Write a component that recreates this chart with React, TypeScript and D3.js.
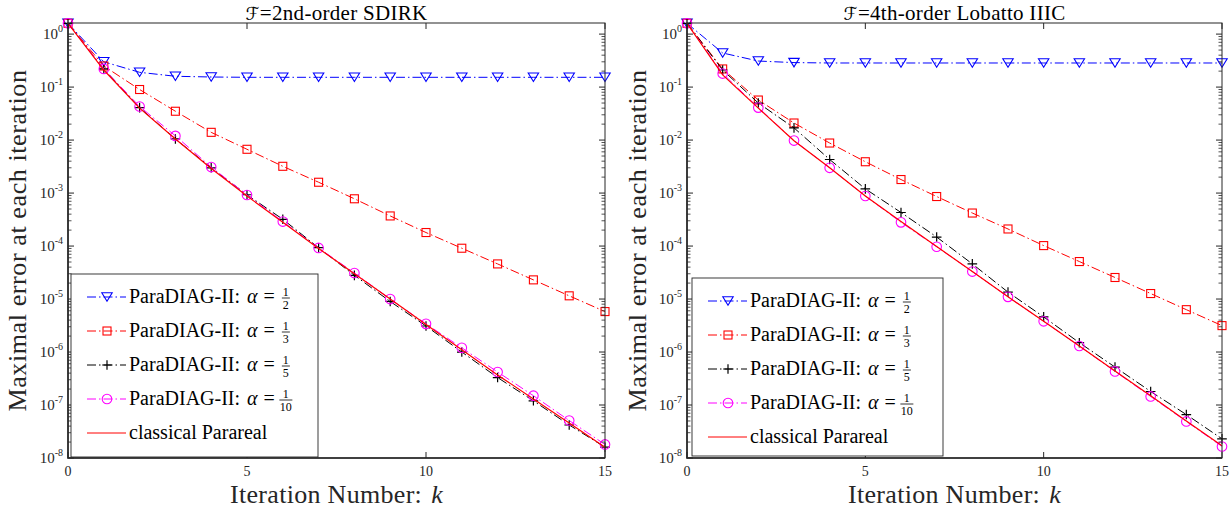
import React, { useEffect, useRef } from 'react';
import * as d3 from 'd3';

const iterations = [0, 1, 2, 3, 4, 5, 6, 7, 8, 9, 10, 11, 12, 13, 14, 15];
const xTicks = [0, 5, 10, 15];
const yTickExponents = [0, -1, -2, -3, -4, -5, -6, -7, -8];
const yDomain = [1e-8, 1.62];

// Left panel: F = 2nd-order SDIRK
const sdirkAlphaHalf = [1.6, 0.3, 0.19, 0.16, 0.155, 0.153, 0.153, 0.153, 0.153, 0.153, 0.153, 0.153, 0.153, 0.153, 0.153, 0.153];
const sdirkAlphaThird = [1.6, 0.25, 0.09, 0.035, 0.014, 0.0067, 0.0032, 0.0016, 0.00078, 0.00037, 0.00018, 9.1e-5, 4.6e-5, 2.3e-5, 1.15e-5, 5.8e-6];
const sdirkAlphaFifth = [1.6, 0.22, 0.041, 0.0105, 0.003, 0.00093, 0.00032, 9.3e-5, 2.8e-5, 9.0e-6, 3.1e-6, 1.0e-6, 3.3e-7, 1.2e-7, 4.2e-8, 1.6e-8];
const sdirkAlphaTenth = [1.6, 0.22, 0.043, 0.012, 0.0031, 0.00092, 0.00029, 9.2e-5, 3.1e-5, 1.0e-5, 3.4e-6, 1.2e-6, 4.2e-7, 1.5e-7, 5.1e-8, 1.8e-8];
const sdirkParareal = [1.6, 0.21, 0.04, 0.0105, 0.0029, 0.00088, 0.00028, 9.0e-5, 3.0e-5, 1.0e-5, 3.3e-6, 1.1e-6, 3.7e-7, 1.3e-7, 4.6e-8, 1.6e-8];

// Right panel: F = 4th-order Lobatto IIIC
const lobattoAlphaHalf = [1.6, 0.44, 0.31, 0.29, 0.285, 0.285, 0.285, 0.285, 0.285, 0.285, 0.285, 0.285, 0.285, 0.285, 0.285, 0.285];
const lobattoAlphaThird = [1.6, 0.22, 0.057, 0.021, 0.0088, 0.0039, 0.0018, 0.00086, 0.00042, 0.00021, 0.000102, 5.1e-5, 2.55e-5, 1.27e-5, 6.3e-6, 3.15e-6];
const lobattoAlphaFifth = [1.6, 0.21, 0.05, 0.017, 0.0043, 0.0012, 0.00043, 0.000148, 4.6e-5, 1.35e-5, 4.6e-6, 1.5e-6, 5.2e-7, 1.8e-7, 6.6e-8, 2.3e-8];
const lobattoAlphaTenth = [1.6, 0.18, 0.041, 0.0098, 0.003, 0.00088, 0.00028, 9.7e-5, 3.3e-5, 1.1e-5, 3.8e-6, 1.3e-6, 4.3e-7, 1.45e-7, 4.9e-8, 1.65e-8];
const lobattoParareal = [1.6, 0.17, 0.04, 0.0097, 0.003, 0.00088, 0.00029, 9.8e-5, 3.3e-5, 1.1e-5, 3.8e-6, 1.3e-6, 4.4e-7, 1.5e-7, 5.0e-8, 1.7e-8];

const legendLabels = ['ParaDIAG-II:', 'ParaDIAG-II:', 'ParaDIAG-II:', 'ParaDIAG-II:', 'classical Parareal'];
const legendDenominators = ['2', '3', '5', '10', ''];
const seriesColors = ['#0000ff', '#ff0000', '#000000', '#ff00ff', '#ff0000'];
const seriesMarkers = ['triangle', 'square', 'plus', 'circle', 'none'];
const seriesDashed = [true, true, true, true, false];

const panelTitles = ['2nd-order SDIRK', '4th-order Lobatto IIIC'];
const panelSeries = [
  [sdirkAlphaHalf, sdirkAlphaThird, sdirkAlphaFifth, sdirkAlphaTenth, sdirkParareal],
  [lobattoAlphaHalf, lobattoAlphaThird, lobattoAlphaFifth, lobattoAlphaTenth, lobattoParareal],
];

const FONT = "'Liberation Serif', 'Times New Roman', serif";
const CAL = "'DejaVu Sans', sans-serif";
const AXIS = '#262626';
const DASH = '9,3,1.5,3';

function txt(sel: any) {
  return sel.style('font-family', FONT);
}

function drawMarker(g: any, type: string, x: number, y: number, color: string) {
  if (type === 'triangle') {
    const w = 5.2, h = 8.5;
    g.append('path').attr('d', `M${x - w},${y - h / 2}L${x + w},${y - h / 2}L${x},${y + h / 2}Z`)
      .attr('fill', 'none').attr('stroke', color).attr('stroke-width', 1.1);
  } else if (type === 'square') {
    const s = 4;
    g.append('rect').attr('x', x - s).attr('y', y - s).attr('width', 2 * s).attr('height', 2 * s)
      .attr('fill', 'none').attr('stroke', color).attr('stroke-width', 1.1);
  } else if (type === 'circle') {
    g.append('circle').attr('cx', x).attr('cy', y).attr('r', 4.8)
      .attr('fill', 'none').attr('stroke', color).attr('stroke-width', 1.1);
  } else if (type === 'plus') {
    const s = 4.8;
    g.append('path').attr('d', `M${x - s},${y}L${x + s},${y}M${x},${y - s}L${x},${y + s}`)
      .attr('fill', 'none').attr('stroke', color).attr('stroke-width', 1.2);
  }
}

function drawPanel(svg: any, idx: number, left: number, right: number, top: number, bottom: number, legendBox: any, ylabelX: number) {
  const x = d3.scaleLinear().domain([0, 15]).range([left, right]);
  const y = d3.scaleLog().domain(yDomain).range([bottom, top]);
  const g = svg.append('g');

  const clip = `clip${idx}`;
  svg.append('defs').append('clipPath').attr('id', clip)
    .append('rect').attr('x', left - 8).attr('y', top - 8).attr('width', right - left + 16).attr('height', bottom - top + 16);
  const data = panelSeries[idx];
  const line = d3.line<number>().x((_, i) => x(iterations[i])).y((d) => y(d));
  data.forEach((vals, s) => {
    const sg = g.append('g').attr('clip-path', `url(#${clip})`);
    sg.append('path').attr('d', line(vals)).attr('fill', 'none')
      .attr('stroke', seriesColors[s]).attr('stroke-width', s === 4 ? 1.2 : 1.0)
      .attr('stroke-dasharray', seriesDashed[s] ? DASH : null);
    vals.forEach((v, i) => drawMarker(sg, seriesMarkers[s], x(iterations[i]), y(v), seriesColors[s]));
  });

  const ax = svg.append('g');
  const tickLen = 6, minorLen = 3.5;
  xTicks.forEach((t) => {
    ax.append('line').attr('x1', x(t)).attr('x2', x(t)).attr('y1', bottom).attr('y2', bottom - tickLen).attr('stroke', AXIS);
    ax.append('line').attr('x1', x(t)).attr('x2', x(t)).attr('y1', top).attr('y2', top + tickLen).attr('stroke', AXIS);
    txt(ax.append('text')).attr('x', x(t)).attr('y', bottom + 18).attr('text-anchor', 'middle')
      .style('font-size', '14px').attr('fill', AXIS).text(String(t));
  });
  yTickExponents.forEach((e) => {
    const yy = y(Math.pow(10, e));
    ax.append('line').attr('x1', left).attr('x2', left + tickLen).attr('y1', yy).attr('y2', yy).attr('stroke', AXIS);
    ax.append('line').attr('x1', right).attr('x2', right - tickLen).attr('y1', yy).attr('y2', yy).attr('stroke', AXIS);
    const t = txt(ax.append('text')).attr('x', left - 5).attr('y', yy + 5).attr('text-anchor', 'end').attr('fill', AXIS);
    t.append('tspan').style('font-size', '15px').text('10');
    t.append('tspan').style('font-size', '10px').attr('dy', -7).text(String(e));
    for (let m = 2; m <= 9; m++) {
      const v = m * Math.pow(10, e);
      if (v > yDomain[1]) continue;
      const ym = y(v);
      ax.append('line').attr('x1', left).attr('x2', left + minorLen).attr('y1', ym).attr('y2', ym).attr('stroke', AXIS).attr('stroke-width', 0.8);
      ax.append('line').attr('x1', right).attr('x2', right - minorLen).attr('y1', ym).attr('y2', ym).attr('stroke', AXIS).attr('stroke-width', 0.8);
    }
  });
  ax.append('rect').attr('x', left).attr('y', top).attr('width', right - left).attr('height', bottom - top)
    .attr('fill', 'none').attr('stroke', AXIS).attr('stroke-width', 1);
  ax.append('path').attr('d', `M${left},${top}L${left},${bottom}L${right},${bottom}`)
    .attr('fill', 'none').attr('stroke', AXIS).attr('stroke-width', 1.6);

  // title
  const title = txt(svg.append('text')).attr('x', (left + right) / 2).attr('y', 19.5).attr('text-anchor', 'middle')
    .style('font-size', '21px').style('letter-spacing', '0.3px').attr('fill', '#000');
  title.append('tspan').style('font-family', CAL).style('font-size', '18px').text('ℱ');
  title.append('tspan').text('=' + panelTitles[idx]);

  // x label
  const xl = txt(svg.append('text')).attr('x', (left + right) / 2).attr('y', 503).attr('text-anchor', 'middle')
    .style('font-size', '26px').style('letter-spacing', '0.3px').attr('fill', AXIS);
  xl.append('tspan').text('Iteration Number:');
  xl.append('tspan').attr('dx', 9).style('font-style', 'italic').text('k');

  // y label
  txt(svg.append('text')).attr('transform', `translate(${ylabelX},${(top + bottom) / 2}) rotate(-90)`)
    .attr('text-anchor', 'middle').style('font-size', '26px').style('letter-spacing', '0.6px').attr('fill', AXIS)
    .text('Maximal error at each iteration');

  // legend
  const lg = svg.append('g');
  lg.append('rect').attr('x', legendBox.x).attr('y', legendBox.y).attr('width', legendBox.w).attr('height', legendBox.h)
    .attr('fill', '#fff').attr('stroke', AXIS).attr('stroke-width', 0.9);
  legendLabels.forEach((lab, s) => {
    const cy = legendBox.y + 23 + s * 34;
    const lx0 = legendBox.x + 16, lx1 = legendBox.x + 55, mx = legendBox.x + 36;
    lg.append('line').attr('x1', lx0).attr('x2', lx1).attr('y1', cy).attr('y2', cy)
      .attr('stroke', seriesColors[s]).attr('stroke-width', 1)
      .attr('stroke-dasharray', seriesDashed[s] ? DASH : null);
    drawMarker(lg, seriesMarkers[s], mx, cy, seriesColors[s]);
    const tx = legendBox.x + 58;
    const t = txt(lg.append('text')).attr('x', tx).attr('y', cy + 6).style('font-size', '20px').attr('fill', '#000');
    if (legendDenominators[s]) {
      t.append('tspan').text(lab);
      t.append('tspan').attr('dx', 7).style('font-style', 'italic').text('α');
      t.append('tspan').attr('dx', 6).text('=');
      const bb = (t.node() as SVGTextElement).getBBox();
      const fx = bb.x + bb.width + 11;
      const den = legendDenominators[s];
      const bw = den.length > 1 ? 13 : 8;
      lg.append('line').attr('x1', fx - bw / 2).attr('x2', fx + bw / 2).attr('y1', cy + 1).attr('y2', cy + 1)
        .attr('stroke', '#000').attr('stroke-width', 0.8);
      txt(lg.append('text')).attr('x', fx).attr('y', cy - 1.5).attr('text-anchor', 'middle')
        .style('font-size', '12px').text('1');
      txt(lg.append('text')).attr('x', fx).attr('y', cy + 12).attr('text-anchor', 'middle')
        .style('font-size', '12px').text(den);
    } else {
      t.text(lab);
    }
  });
}

export default function App() {
  const ref = useRef<SVGSVGElement>(null);
  useEffect(() => {
    const svg = d3.select(ref.current);
    svg.selectAll('*').remove();
    svg.append('rect').attr('width', 1232).attr('height', 512).attr('fill', '#fff');
    drawPanel(svg, 0, 68, 605, 23, 458, { x: 71, y: 274, w: 247, h: 183 }, 26);
    drawPanel(svg, 1, 687, 1222, 23, 458, { x: 692, y: 278, w: 251, h: 178 }, 646);
  }, []);
  return (
    <svg ref={ref} width={1232} height={512} style={{ position: 'absolute', left: 0, top: 0, fontFamily: FONT }} />
  );
}
